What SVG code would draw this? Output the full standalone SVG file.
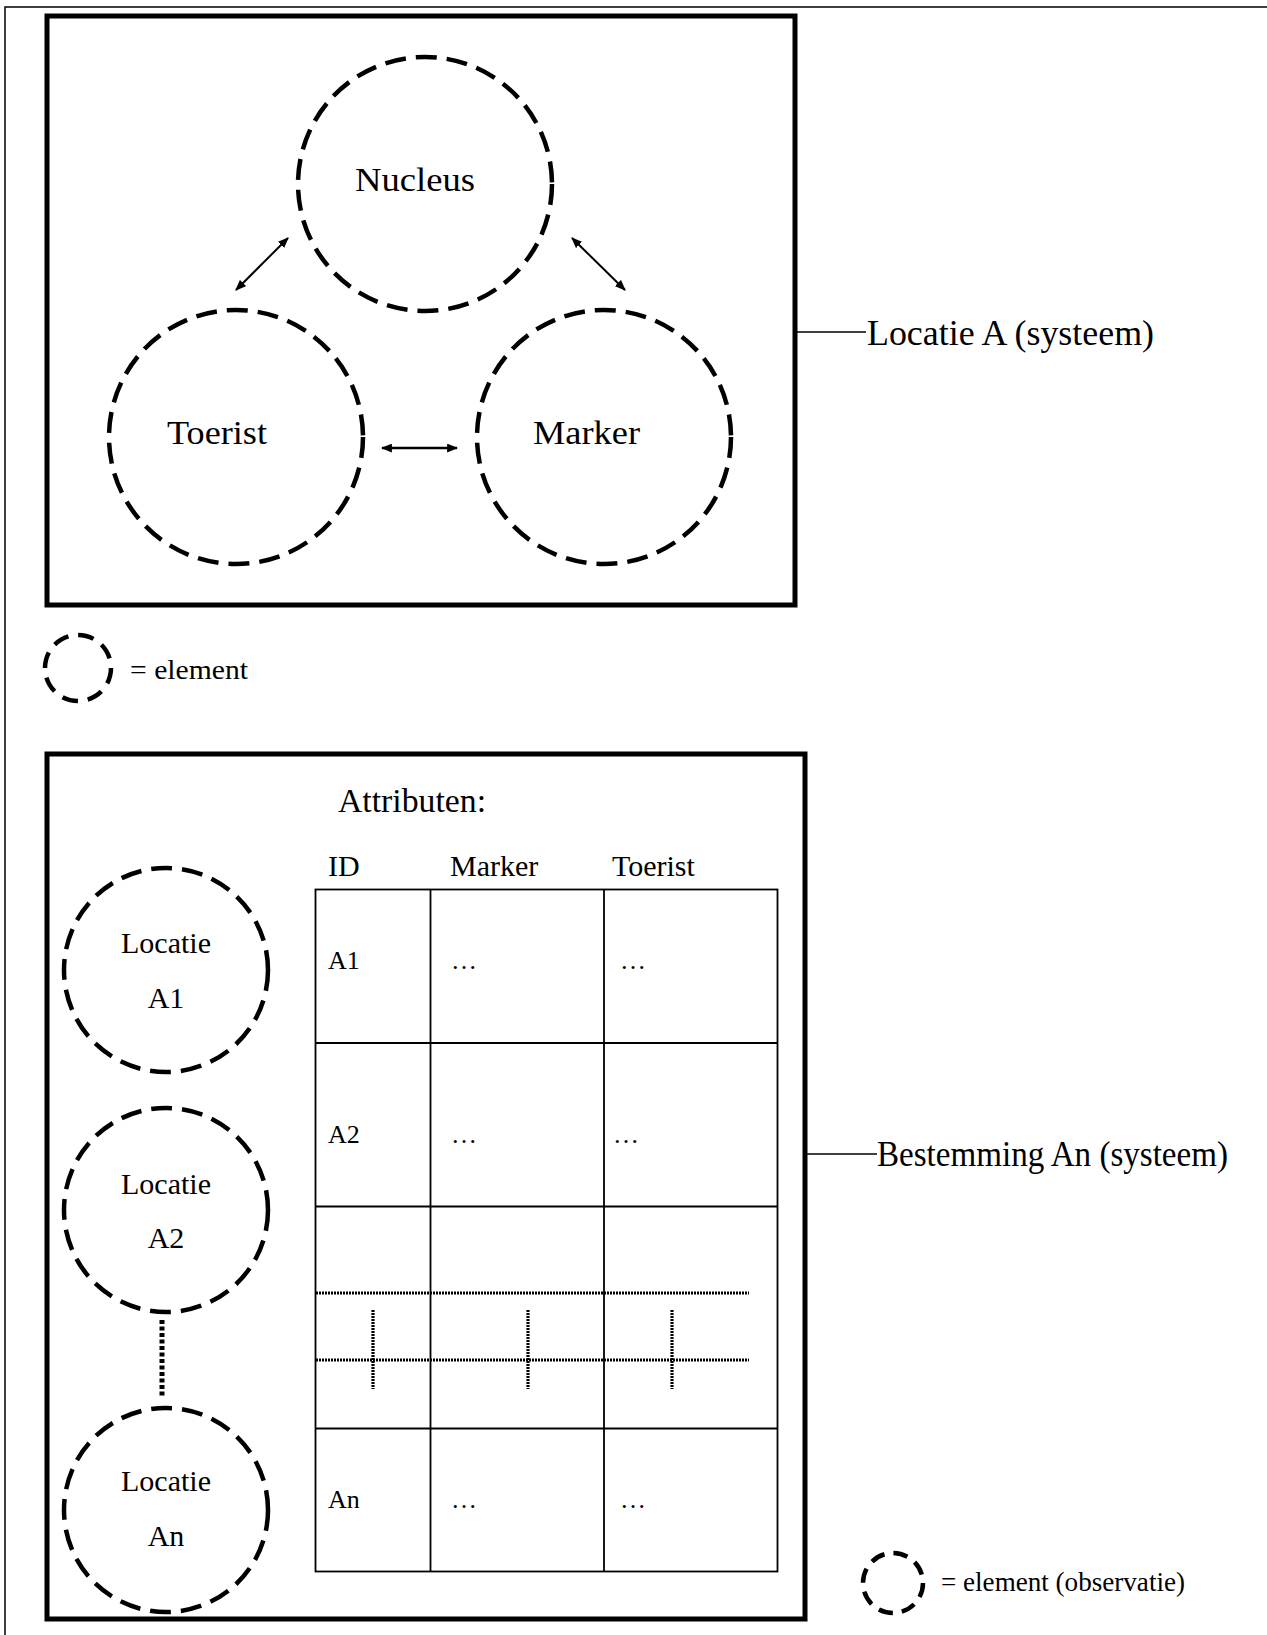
<svg xmlns="http://www.w3.org/2000/svg" width="1267" height="1635" viewBox="0 0 1267 1635">
  <style>
    text { font-family: "Liberation Serif", "Times New Roman", serif; fill: #000; }
    .elem { fill: none; stroke: #000; stroke-width: 4.5; stroke-dasharray: 21 10; }
    .small-elem { fill: none; stroke: #000; stroke-width: 4.5; }
    .frame { fill: none; stroke: #000; stroke-width: 5; }
    .thin { fill: none; stroke: #000; stroke-width: 1.5; }
    .grid { fill: none; stroke: #000; stroke-width: 1.8; }
    .dots { fill: none; stroke: #000; stroke-width: 3.2; stroke-dasharray: 2 1; }
    .chain { fill: none; stroke: #000; stroke-width: 5; stroke-dasharray: 4 2.5; }
    .arrow { fill: none; stroke: #000; stroke-width: 2; marker-start: url(#head); marker-end: url(#head); }
    .big { font-size: 34px; }
    .lbl { font-size: 35px; }
    .loc { font-size: 30px; text-anchor: middle; }
    .hdr { font-size: 30px; }
    .cell { font-size: 26px; }
    .leg { font-size: 28px; }
  </style>
  <defs>
    <marker id="head" viewBox="0 0 10 8" refX="9" refY="4" markerWidth="11" markerHeight="9" markerUnits="userSpaceOnUse" orient="auto-start-reverse">
      <path d="M0,0 L10,4 L0,8 z" fill="#000"/>
    </marker>
  </defs>

  <!-- page border (left and top edges) -->
  <path class="thin" d="M5,1635 V7 H1267"/>

  <!-- system: Locatie A -->
  <g id="system-locatie-a">
    <rect class="frame" x="47" y="16" width="748" height="589"/>
  </g>

  <g id="node-nucleus">
    <circle class="elem" cx="425" cy="184" r="127"/>
    <text class="big" x="355" y="191" textLength="120" lengthAdjust="spacingAndGlyphs">Nucleus</text>
  </g>
  <g id="node-toerist">
    <circle class="elem" cx="236" cy="437" r="127"/>
    <text class="big" x="167" y="444" textLength="100" lengthAdjust="spacingAndGlyphs">Toerist</text>
  </g>
  <g id="node-marker">
    <circle class="elem" cx="604" cy="437" r="127"/>
    <text class="big" x="533" y="444" textLength="107" lengthAdjust="spacingAndGlyphs">Marker</text>
  </g>

  <!-- relations between elements -->
  <g id="connectors">
    <line class="arrow" x1="288" y1="238" x2="236" y2="290"/>
    <line class="arrow" x1="572" y1="238" x2="625" y2="290"/>
    <line class="arrow" x1="382" y1="448" x2="457" y2="448" style="stroke-width:2.5"/>
    <line class="thin" x1="795" y1="332" x2="866" y2="332"/>
    <line class="thin" x1="806" y1="1154" x2="877" y2="1154"/>
    <line class="chain" x1="162" y1="1320" x2="162" y2="1398"/>
  </g>

  <g id="label-locatie-a">
    <text class="lbl" x="867" y="345" textLength="287" lengthAdjust="spacingAndGlyphs">Locatie A (systeem)</text>
  </g>

  <!-- legend: element -->
  <g id="legend-element">
    <circle class="small-elem" cx="78" cy="668" r="33" style="stroke-dasharray: 16 9.9;"/>
    <text class="leg" x="130" y="679" textLength="118" lengthAdjust="spacingAndGlyphs">= element</text>
  </g>

  <!-- system: Bestemming An -->
  <g id="system-bestemming-an">
    <rect class="frame" x="47" y="754" width="758" height="865"/>
    <text x="338" y="812" style="font-size:33px" textLength="148" lengthAdjust="spacingAndGlyphs">Attributen:</text>
  </g>

  <g id="label-bestemming-an">
    <text class="lbl" x="877" y="1166" textLength="351" lengthAdjust="spacingAndGlyphs">Bestemming An (systeem)</text>
  </g>

  <g id="node-locatie-a1">
    <circle class="elem" cx="166" cy="970" r="102"/>
    <text class="loc" x="166" y="953">Locatie</text>
    <text class="loc" x="166" y="1008">A1</text>
  </g>
  <g id="node-locatie-a2">
    <circle class="elem" cx="166" cy="1210" r="102"/>
    <text class="loc" x="166" y="1194">Locatie</text>
    <text class="loc" x="166" y="1248">A2</text>
  </g>
  <g id="node-locatie-an">
    <circle class="elem" cx="166" cy="1510" r="102"/>
    <text class="loc" x="166" y="1491">Locatie</text>
    <text class="loc" x="166" y="1546">An</text>
  </g>

  <!-- attribute table -->
  <g id="attribute-table">
    <text class="hdr" x="328" y="876">ID</text>
    <text class="hdr" x="450" y="876">Marker</text>
    <text class="hdr" x="612" y="876">Toerist</text>

    <rect class="grid" x="315.5" y="889.5" width="462" height="682"/>
    <line class="grid" x1="430.5" y1="889.5" x2="430.5" y2="1571.5"/>
    <line class="grid" x1="604" y1="889.5" x2="604" y2="1571.5"/>
    <line class="grid" x1="315.5" y1="1043" x2="777.5" y2="1043"/>
    <line class="grid" x1="315.5" y1="1206.5" x2="777.5" y2="1206.5"/>
    <line class="grid" x1="315.5" y1="1428.5" x2="777.5" y2="1428.5"/>

    <text class="cell" x="328" y="969">A1</text>
    <text class="cell" x="451" y="969">…</text>
    <text class="cell" x="620" y="969">…</text>

    <text class="cell" x="328" y="1143">A2</text>
    <text class="cell" x="451" y="1143">…</text>
    <text class="cell" x="613" y="1143">…</text>

    <!-- continuation rows -->
    <line class="dots" x1="316" y1="1293" x2="749" y2="1293"/>
    <line class="dots" x1="316" y1="1360" x2="749" y2="1360"/>
    <line class="dots" x1="373" y1="1310" x2="373" y2="1389"/>
    <line class="dots" x1="528" y1="1310" x2="528" y2="1389"/>
    <line class="dots" x1="672" y1="1310" x2="672" y2="1389"/>

    <text class="cell" x="328" y="1508">An</text>
    <text class="cell" x="451" y="1508">…</text>
    <text class="cell" x="620" y="1508">…</text>
  </g>

  <!-- legend: element (observatie) -->
  <g id="legend-observatie">
    <circle class="small-elem" cx="893" cy="1583" r="30" style="stroke-dasharray: 14.5 9.1;"/>
    <text class="leg" x="941" y="1591" textLength="244" lengthAdjust="spacingAndGlyphs">= element (observatie)</text>
  </g>
</svg>
